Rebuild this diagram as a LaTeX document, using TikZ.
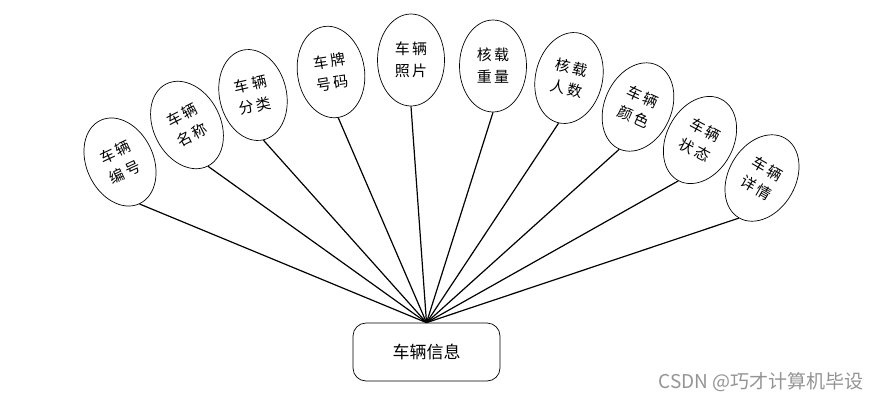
\documentclass[tikz,border=0pt]{standalone}
\usepackage{fontspec}
\setmainfont{Noto Sans CJK SC}
\usetikzlibrary{shapes.geometric}

\begin{document}
\begin{tikzpicture}
  [x=1pt, y=-1pt,
   attr/.style={ellipse, draw=black, line width=0.7pt, fill=white, inner sep=0pt,
                minimum width=67pt, minimum height=92pt, align=center,
                font=\fontsize{15}{22}\selectfont},
   entity/.style={rectangle, rounded corners=13pt, draw=black, line width=0.7pt,
                  minimum width=147pt, minimum height=58pt, font=\fontsize{17}{20}\selectfont},
   link/.style={line width=1.2pt}]

  \useasboundingbox (0,0) rectangle (884,405);

  \node[entity] (info) at (426.5,352) {车辆信息};

  \node[attr, rotate=25]  (bh) at (120,162) {车\,辆\\编\,号};
  \node[attr, rotate=27]  (mc) at (187,125) {车\,辆\\名\,称};
  \node[attr, rotate=13]  (fl) at (253,95)  {车\,辆\\分\,类};
  \node[attr, rotate=9]   (cp) at (331,72)  {车\,牌\\号\,码};
  \node[attr]             (zp) at (411,60)  {车\,辆\\照\,片};
  \node[attr]             (zl) at (493,66)  {核\,载\\重\,量};
  \node[attr, rotate=-13] (rs) at (569,78)  {核\,载\\人\,数};
  \node[attr, rotate=-24] (ys) at (638,107) {车\,辆\\颜\,色};
  \node[attr, rotate=-28] (zt) at (700,140) {车\,辆\\状\,态};
  \node[attr, rotate=-30] (xq) at (762,178) {车\,辆\\详\,情};

  \foreach \to in {bh,mc,fl,cp,zp,zl,rs,ys,zt,xq}
    \draw[link] (info.north) -- (\to.south);

  \node[text=black!42, font=\fontsize{19}{22}\selectfont] (mark) at (761,382) {CSDN @巧才计算机毕设};
\end{tikzpicture}
\end{document}
